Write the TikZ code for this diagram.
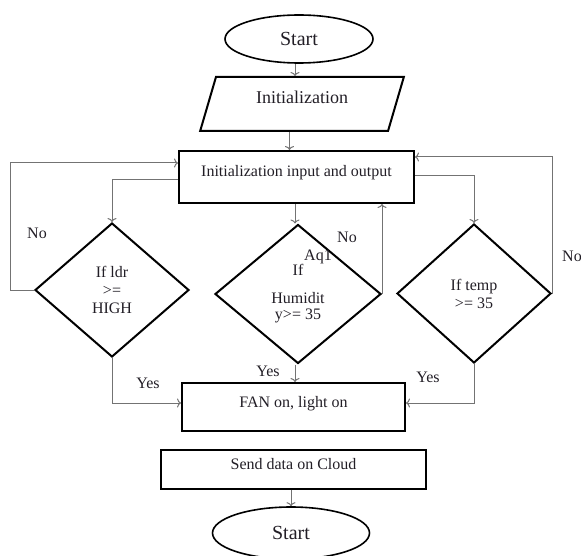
\documentclass[tikz,border=0pt]{standalone}
\usepackage{fontspec}
\setmainfont{Liberation Serif}
\usepackage{tikz}
\usetikzlibrary{shapes.geometric,arrows.meta}
\definecolor{txt}{RGB}{34,30,38}

\begin{document}
\begin{tikzpicture}[x=1pt,y=-1pt,
  every node/.style={text=txt,font=\fontsize{16pt}{18pt}\selectfont},
  oval/.style={ellipse,draw,line width=1.6pt,inner sep=0pt,font=\fontsize{20pt}{22pt}\selectfont},
  iobox/.style={trapezium,trapezium left angle=72,trapezium right angle=108,trapezium stretches=true,draw,line width=2pt,inner sep=0pt,text height=13pt,text depth=13pt},
  procbox/.style={rectangle,draw,line width=2pt,inner sep=0pt,text height=12pt,text depth=12pt},
  test/.style={diamond,draw,line width=2pt,inner sep=0pt,align=center},
  conn/.style={draw=black!55,line width=1pt,-{To[length=4pt,width=9pt]}},
  lbl/.style={inner sep=0pt}]
\useasboundingbox (0,0) rectangle (581,556);

\node[oval,minimum width=148pt,minimum height=48pt] (start) at (299,39) {Start};
\node[iobox,minimum width=204pt,minimum height=54pt,font=\fontsize{18pt}{20pt}\selectfont] (init) at (302,104) {Initialization};
\node[procbox,minimum width=235pt,minimum height=52pt] (io) at (296.5,177) {Initialization input and output};

\node[test,minimum width=154pt,minimum height=134pt] (ldr) at (112,290) {If ldr\\>=\\HIGH};
\node[test,minimum width=166pt,minimum height=139pt] (hum) at (298,294) {If\\[10pt]Humidit\\[-2pt]y>= 35};
\node[test,minimum width=154pt,minimum height=139pt] (tmp) at (474,293.5) {If temp\\>= 35};
\node[lbl] (aq) at (318,257) {Aq1};

\node[procbox,minimum width=223pt,minimum height=48pt] (fan) at (293.5,407) {FAN on, light on};
\node[procbox,minimum width=265pt,minimum height=39pt] (send) at (293.5,469.5) {Send data on Cloud};
\node[oval,minimum width=157pt,minimum height=52pt] (stop) at (291,533) {Start};

\coordinate (lloop) at (10,0);

\draw[conn] (start.south -| init.north) ++(-7,0) coordinate (s1) -- (s1 |- init.north);
\draw[conn] (io.north |- init.south) ++(-7,0) coordinate (s2) -- (s2 |- io.north);
\draw[conn] (hum.north |- io.south) ++(-3,0) coordinate (s3) -- (s3 |- hum.north);

\draw[conn] (ldr.west) -- (ldr.west -| lloop) |- ([yshift=-13pt]io.north west);
\draw[conn] ([yshift=-30pt]io.north west) -| (ldr.north);
\draw[conn] (hum.east) -- (hum.east |- io.south);
\draw[conn] ([yshift=-26pt]io.north east) -| (tmp.north);
\draw[conn] (tmp.east) |- ([yshift=-7pt]io.north east);

\draw[conn] (ldr.south) |- ([yshift=4pt]fan.west);
\draw[conn] (hum.south) ++(-3,0) coordinate (s4) -- (s4 |- fan.north);
\draw[conn] (tmp.south) |- ([yshift=4pt]fan.east);
\draw[conn] (send.south -| stop.north) -- (stop.north);

\node[lbl] (no1) at (37,233) {No};
\node[lbl] (no2) at (347,237) {No};
\node[lbl,anchor=west] (no3) at (562,256) {No};
\node[lbl] (yes1) at (148,383) {Yes};
\node[lbl] (yes2) at (268,371) {Yes};
\node[lbl] (yes3) at (428,377) {Yes};

\end{tikzpicture}
\end{document}
